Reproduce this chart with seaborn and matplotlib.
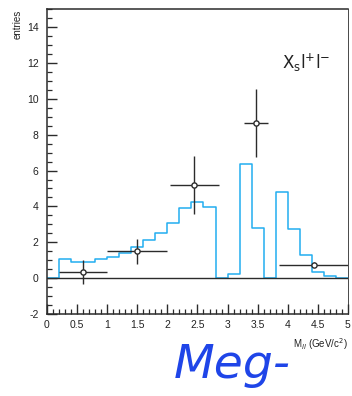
import numpy as np
import pandas as pd
import matplotlib
matplotlib.use("Agg")
import matplotlib.pyplot as plt
from matplotlib.ticker import MultipleLocator
import seaborn as sns

# Simulated signal shape: 0.2 GeV/c^2 bins from 0 to 5
bin_edges = [0.0, 0.2, 0.4, 0.6, 0.8, 1.0, 1.2, 1.4, 1.6, 1.8, 2.0, 2.2, 2.4,
             2.6, 2.8, 3.0, 3.2, 3.4, 3.6, 3.8, 4.0, 4.2, 4.4, 4.6, 4.8, 5.0]
mc_counts = [0.0, 1.06, 0.89, 0.89, 1.06, 1.19, 1.41, 1.75, 2.12, 2.5, 3.09,
             3.9, 4.24, 3.97, 0.0, 0.22, 6.35, 2.8, 0.0, 4.82, 2.73, 1.28,
             0.35, 0.1, 0.0]

# Measured yields with errors
data_x = [0.6, 1.5, 2.45, 3.48, 4.43]
data_y = [0.35, 1.5, 5.2, 8.64, 0.76]
data_xlo = [0.2, 1.0, 2.05, 3.28, 3.85]
data_xhi = [1.0, 2.0, 2.85, 3.68, 5.0]
data_yerr = [0.67, 0.7, 1.6, 1.9, 0.12]

x_ticks = [0, 0.5, 1, 1.5, 2, 2.5, 3, 3.5, 4, 4.5, 5]
x_tick_labels = ["0", "0.5", "1", "1.5", "2", "2.5", "3", "3.5", "4", "4.5", "5"]
y_ticks = [-2, 0, 2, 4, 6, 8, 10, 12, 14]

sns.set_style("ticks")
plt.rcParams["font.family"] = ["Liberation Sans", "DejaVu Sans"]
plt.rcParams["axes.unicode_minus"] = False

ink = "#2b2b2b"
mc_blue = "#22aef0"

fig = plt.figure(figsize=(3.52, 3.96), dpi=100)
ax = fig.add_axes([0.1335, 0.207, 0.855, 0.770])

centers = [(a + b) / 2 for a, b in zip(bin_edges[:-1], bin_edges[1:])]
mc = pd.DataFrame({"mass": centers, "w": mc_counts})
sns.histplot(data=mc, x="mass", weights="w", bins=bin_edges, element="step",
             fill=False, color=mc_blue, linewidth=1.1, ax=ax, zorder=2)

ax.axhline(0, color=ink, lw=1.0, zorder=3)

dx = np.array(data_x)
xerr = [dx - np.array(data_xlo), np.array(data_xhi) - dx]
ax.errorbar(data_x, data_y, xerr=xerr, yerr=data_yerr, fmt="none",
            ecolor=ink, elinewidth=1.0, capsize=0, zorder=4)
pts = pd.DataFrame({"x": data_x, "y": data_y})
sns.scatterplot(data=pts, x="x", y="y", marker="o", s=14, facecolor="white",
                edgecolor=ink, linewidth=1.0, ax=ax, zorder=5)

ax.set_xlim(0, 5)
ax.set_ylim(-2, 15)
ax.set_xticks(x_ticks)
ax.set_xticklabels(x_tick_labels)
ax.set_yticks(y_ticks)
ax.xaxis.set_minor_locator(MultipleLocator(0.1))
ax.yaxis.set_minor_locator(MultipleLocator(0.5))
ax.tick_params(axis="both", which="major", direction="in", length=7,
               width=1.0, color=ink, labelsize=7.5, labelcolor="#222222")
ax.tick_params(axis="both", which="minor", direction="in", length=3.5,
               width=0.9, color=ink)
ax.tick_params(axis="x", which="major", pad=4)
ax.tick_params(axis="y", which="major", pad=6)
ax.set_xlabel("")
ax.set_ylabel("")
for side in ["left", "bottom", "top", "right"]:
    ax.spines[side].set_visible(True)
    ax.spines[side].set_color(ink)
    ax.spines[side].set_linewidth(1.1)
ax.spines["right"].set_linewidth(0.6)

ax.text(0.86, 0.825, r"$\mathrm{X_s l^{+} l^{-}}$", transform=ax.transAxes,
        fontsize=12, color="#222222", ha="center", va="center")

fig.text(18 / 352, 1 - 10 / 396, "entries", rotation=90, fontsize=7,
         ha="center", va="top", color="#222222")
fig.text(348 / 352, 1 - 344 / 396, r"M$_{ll}$ (GeV/c$^{2}$)", fontsize=7,
         ha="right", va="center", color="#222222")

# handwritten note below the axis
fig.text(232 / 352, 1 - 365 / 396, "Meg-", fontsize=34, color="#1f45e8",
         family=["Liberation Sans Narrow", "DejaVu Sans"], style="italic",
         ha="center", va="center")

fig.savefig("out.png", dpi=100)
